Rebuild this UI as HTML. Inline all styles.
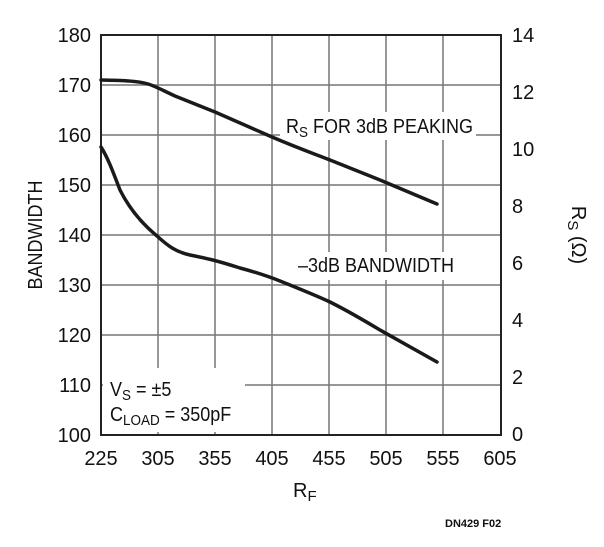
<!DOCTYPE html>
<html><head><style>
body{margin:0;background:#fff}
text{font-family:"Liberation Sans",sans-serif;fill:#111}
</style></head><body>
<svg width="604" height="542" viewBox="0 0 604 542" xmlns="http://www.w3.org/2000/svg">
<g stroke="#777" stroke-width="1.5">
<line x1="158" y1="35" x2="158" y2="435"/>
<line x1="215" y1="35" x2="215" y2="435"/>
<line x1="272" y1="35" x2="272" y2="435"/>
<line x1="329" y1="35" x2="329" y2="435"/>
<line x1="386" y1="35" x2="386" y2="435"/>
<line x1="443" y1="35" x2="443" y2="435"/>
<line x1="101" y1="85" x2="501" y2="85"/>
<line x1="101" y1="135" x2="501" y2="135"/>
<line x1="101" y1="185" x2="501" y2="185"/>
<line x1="101" y1="235" x2="501" y2="235"/>
<line x1="101" y1="285" x2="501" y2="285"/>
<line x1="101" y1="335" x2="501" y2="335"/>
<line x1="101" y1="385" x2="501" y2="385"/>
</g>
<rect x="280" y="112" width="196" height="28" fill="#fff"/>
<rect x="292" y="252" width="172" height="28" fill="#fff"/>
<rect x="103" y="368" width="142" height="64" fill="#fff"/>
<rect x="101" y="35" width="400" height="400" fill="none" stroke="#222" stroke-width="2"/>
<g fill="none" stroke="#1a1a1a" stroke-width="3.5" stroke-linecap="round" stroke-linejoin="round">
<path d="M101,80 C125,80.5 138,81 148,84 C155,86 162,90 175,96 L215,112 L272,137 C300,149 315,154 330,160 L380,180 L437,204"/>
<path d="M101,147 C108,158 113,172 120,190 C128,206 140,222 157,236 C168,246 176,252 190,255 C205,258 215,260 240,268 C255,272 265,275 280,281 C300,289 315,295 330,302 C350,312 365,321 380,330 L437,362"/>
</g>
<g font-size="20">
<g text-anchor="end">
<text x="91" y="42">180</text>
<text x="91" y="92">170</text>
<text x="91" y="142">160</text>
<text x="91" y="192">150</text>
<text x="91" y="242">140</text>
<text x="91" y="292">130</text>
<text x="91" y="342">120</text>
<text x="91" y="392">110</text>
<text x="91" y="442">100</text>
</g>
<text x="512" y="42">14</text>
<text x="512" y="99">12</text>
<text x="512" y="156">10</text>
<text x="512" y="213">8</text>
<text x="512" y="270">6</text>
<text x="512" y="327">4</text>
<text x="512" y="384">2</text>
<text x="512" y="441">0</text>
<g text-anchor="middle">
<text x="101" y="465">225</text>
<text x="158" y="465">305</text>
<text x="215" y="465">355</text>
<text x="272" y="465">405</text>
<text x="329" y="465">455</text>
<text x="386" y="465">505</text>
<text x="443" y="465">555</text>
<text x="500" y="465">605</text>
</g>
<g transform="translate(286,133) scale(0.9,1)"><text x="0" y="0">R<tspan font-size="15" dy="4">S</tspan><tspan dy="-4"> FOR 3dB PEAKING</tspan></text></g>
<g transform="translate(298,272) scale(0.9,1)"><text x="0" y="0">–3dB BANDWIDTH</text></g>
<g transform="translate(110,396) scale(0.9,1)"><text x="0" y="0">V<tspan font-size="15" dy="4">S</tspan><tspan dy="-4"> = ±5</tspan></text></g>
<g transform="translate(110,421) scale(0.9,1)"><text x="0" y="0">C<tspan font-size="15" dy="4">LOAD</tspan><tspan dy="-4"> = 350pF</tspan></text></g>
<text x="293" y="497">R<tspan font-size="15" dy="4">F</tspan></text>
<g transform="translate(42,235) rotate(-90) scale(0.9,1)"><text x="0" y="0" text-anchor="middle">BANDWIDTH</text></g>
<text transform="translate(572,235) rotate(90)" text-anchor="middle">R<tspan font-size="15" dy="4">S</tspan><tspan dy="-4"> (Ω)</tspan></text>
</g>
<text x="445" y="527" font-size="11" font-weight="bold">DN429 F02</text>
</svg>
</body></html>
